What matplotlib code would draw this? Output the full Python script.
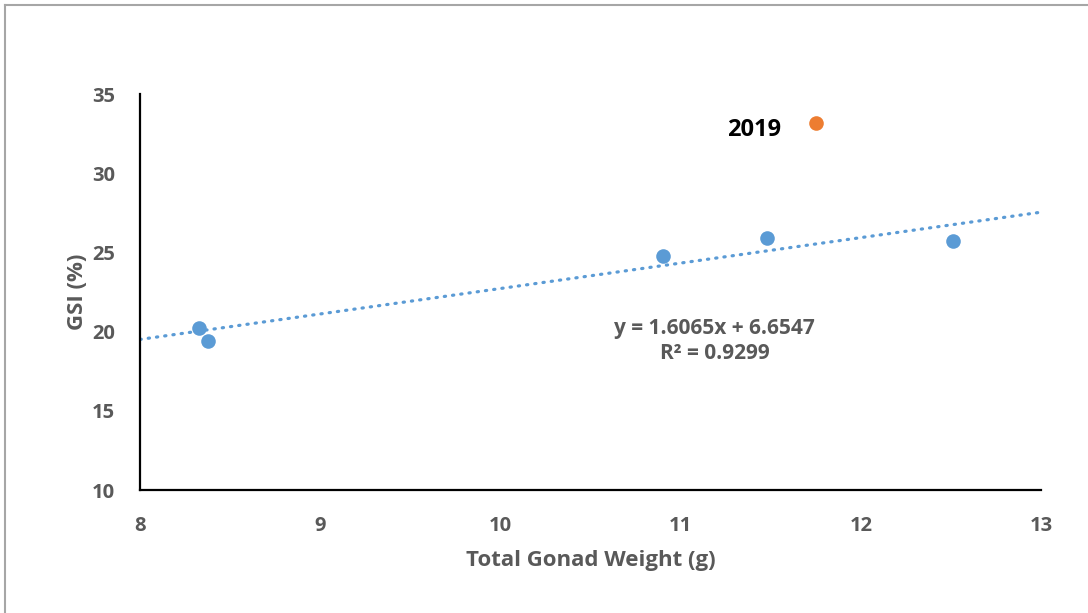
import matplotlib.pyplot as plt
from matplotlib.lines import Line2D

# total gonad weight (g) vs gonadosomatic index (%)
gonad_weight = [8.33, 8.38, 10.90, 11.48, 12.51]
gsi = [20.2, 19.4, 24.8, 25.9, 25.7]

# 2019 sample, shown separately
weight_2019 = [11.75]
gsi_2019 = [33.2]

# linear trend line coefficients and fit quality
slope = 1.6065
intercept = 6.6547
r_squared = 0.9299

x_ticks = [8, 9, 10, 11, 12, 13]
y_ticks = [10, 15, 20, 25, 30, 35]

BLUE = '#5B9BD5'
ORANGE = '#ED7D31'
GREY = '#595959'
FONT = 'Open Sans'
TICK_SIZE = 14.5
LABEL_SIZE = 16

if __name__ == '__main__':
    fig = plt.figure(figsize=(10.88, 6.13), dpi=100)
    ax = fig.add_axes([140 / 1088, 1 - 490 / 613, 901 / 1088, 396 / 613])

    # trend line over the full x range
    x_line = [x_ticks[0], x_ticks[-1]]
    y_line = [slope * x + intercept for x in x_line]
    ax.plot(x_line, y_line, color=BLUE, linewidth=2.3,
            linestyle=(0, (0.4, 2.2)), dash_capstyle='round', zorder=2)

    ax.plot(gonad_weight, gsi, 'o', color=BLUE, markersize=10.5,
            markeredgewidth=0, zorder=3)
    ax.plot(weight_2019, gsi_2019, 'o', color=ORANGE, markersize=10.5,
            markeredgewidth=0, zorder=3)
    ax.text(weight_2019[0] - 0.19, gsi_2019[0] - 0.5, '2019', fontsize=17,
            fontweight='bold', family=FONT, color='black', ha='right', va='center')

    ax.text(11.19, 19.4, 'y = %.4fx + %.4f\nR² = %.4f' % (slope, intercept, r_squared),
            fontsize=15, fontweight='bold', family=FONT, color=GREY,
            ha='center', va='center', linespacing=1.25)

    ax.set_xlim(x_ticks[0], x_ticks[-1])
    ax.set_ylim(y_ticks[0], y_ticks[-1])
    ax.set_xticks(x_ticks)
    ax.set_yticks(y_ticks)
    ax.tick_params(length=0, labelsize=TICK_SIZE, labelcolor=GREY)
    ax.tick_params(axis='x', pad=19)
    ax.tick_params(axis='y', pad=18)
    for lbl in ax.get_xticklabels() + ax.get_yticklabels():
        lbl.set_fontweight('bold')
        lbl.set_family(FONT)

    for side in ['top', 'right']:
        ax.spines[side].set_visible(False)
    for side in ['left', 'bottom']:
        ax.spines[side].set_linewidth(1.6)
        ax.spines[side].set_color('black')

    ax.set_xlabel('Total Gonad Weight (g)', fontsize=LABEL_SIZE, fontweight='bold',
                  family=FONT, color=GREY, labelpad=10)
    ax.set_ylabel('GSI (%)', fontsize=LABEL_SIZE, fontweight='bold',
                  family=FONT, color=GREY, labelpad=3)

    # chart area outline (top and left edges)
    fig.add_artist(Line2D([5 / 1088, 1], [1 - 5 / 613, 1 - 5 / 613],
                          transform=fig.transFigure, color='#A6A6A6', linewidth=1.5))
    fig.add_artist(Line2D([5 / 1088, 5 / 1088], [0, 1 - 5 / 613],
                          transform=fig.transFigure, color='#A6A6A6', linewidth=1.5))

    plt.savefig('out.png', dpi=100)
    plt.close()
